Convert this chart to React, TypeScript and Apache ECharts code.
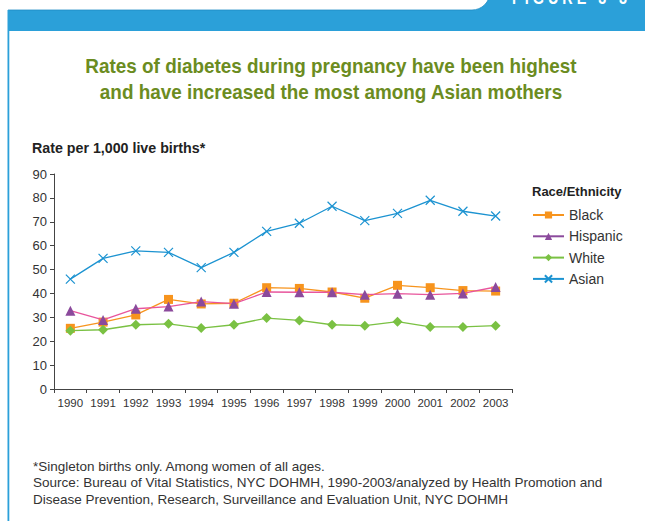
import React, { useEffect, useRef } from "react";
import * as echarts from "echarts";

const years = ["1990","1991","1992","1993","1994","1995","1996","1997","1998","1999","2000","2001","2002","2003"];
const black = [25.4, 28.0, 31.0, 37.5, 35.6, 35.9, 42.4, 42.1, 40.6, 38.0, 43.4, 42.4, 41.2, 41.0];
const hispanic = [32.8, 28.9, 33.6, 34.5, 36.6, 35.7, 40.6, 40.5, 40.5, 39.5, 39.9, 39.5, 40.0, 42.7];
const white = [24.4, 24.8, 26.9, 27.3, 25.5, 26.9, 29.7, 28.7, 26.9, 26.5, 28.2, 26.0, 26.0, 26.5];
const asian = [46.0, 54.7, 57.8, 57.2, 50.8, 57.2, 66.0, 69.4, 76.5, 70.5, 73.5, 79.0, 74.4, 72.4];

const titleLines = [
  "Rates of diabetes during pregnancy have been highest",
  "and have increased the most among Asian mothers",
];
const yAxisTitle = "Rate per 1,000 live births*";
const legendTitle = "Race/Ethnicity";
const figureLabel = "F I G U R E   3 - 3";
const footnotes = [
  "*Singleton births only. Among women of all ages.",
  "Source: Bureau of Vital Statistics, NYC DOHMH, 1990-2003/analyzed by Health Promotion and",
  "Disease Prevention, Research, Surveillance and Evaluation Unit, NYC DOHMH",
];

const BLUE = "#2BA0D9";
const SANS = '"Liberation Sans", Arial, sans-serif';

export default function App() {
  const ref = useRef<HTMLDivElement>(null);
  useEffect(() => {
    if (!ref.current) return;
    const chart = echarts.init(ref.current, null, { renderer: "svg" });
    const mkLine = (name: string, data: number[], color: string, symbol: string, size: number, extra: any = {}) => ({
      name,
      type: "line",
      data,
      symbol,
      symbolSize: size,
      lineStyle: { width: 1.3, color: extra.lineColor || color },
      itemStyle: { color, ...(extra.itemStyle || {}) },
      z: extra.z || 2,
    });
    chart.setOption({
      animation: false,
      backgroundColor: "#ffffff",
      textStyle: { fontFamily: SANS },
      grid: { left: 54, right: 133, top: 174, bottom: 132, containLabel: false },
      xAxis: {
        type: "category",
        data: years,
        boundaryGap: true,
        axisLine: { lineStyle: { color: "#444", width: 1 } },
        axisTick: { show: true, length: 4, lineStyle: { color: "#444" } },
        axisLabel: { color: "#333", fontSize: 11.5, margin: 8, interval: 0, fontFamily: SANS },
      },
      yAxis: {
        type: "value",
        min: 0,
        max: 90,
        interval: 10,
        axisLine: { show: true, lineStyle: { color: "#444", width: 1 } },
        axisTick: { show: true, length: 4, lineStyle: { color: "#444" } },
        axisLabel: { color: "#333", fontSize: 13, margin: 7, fontFamily: SANS },
        splitLine: { show: false },
      },
      legend: {
        orient: "vertical",
        left: 532,
        top: 208,
        padding: 0,
        itemWidth: 31,
        itemHeight: 9,
        itemGap: 7.3,
        textStyle: { fontSize: 14, color: "#333", fontFamily: SANS },
        data: [
          { name: "Black" },
          { name: "Hispanic", itemStyle: { color: "#8B4A9C" }, lineStyle: { color: "#8B4A9C" } },
          { name: "White" },
          { name: "Asian" },
        ],
      },
      series: [
        mkLine("Black", black, "#F7941D", "rect", 9),
        mkLine("Hispanic", hispanic, "#8B4A9C", "triangle", 10, { lineColor: "#E8559C", z: 3 }),
        mkLine("White", white, "#7AC143", "diamond", 10),
        mkLine("Asian", asian, "#1C93D1", "path://M0,0L10,10M10,0L0,10", 9, {
          itemStyle: { borderColor: "#1C93D1", borderWidth: 1.2 },
        }),
      ],
      graphic: [
        { type: "rect", shape: { x: 460, y: 0, width: 200, height: 31 }, style: { fill: BLUE }, silent: true },
        { type: "rect", shape: { x: 8, y: 10, width: 640, height: 21 }, style: { fill: BLUE }, silent: true },
        { type: "rect", shape: { x: -10, y: -20, width: 500, height: 30, r: [0, 0, 18, 0] }, style: { fill: "#ffffff", stroke: "#1E8CC4", lineWidth: 0.8 }, silent: true },
        { type: "rect", shape: { x: 0, y: 0, width: 8, height: 521 }, style: { fill: "#ffffff" }, silent: true },
        { type: "rect", shape: { x: 7.5, y: 10, width: 1.8, height: 520 }, style: { fill: BLUE }, silent: true },
        { type: "text", x: 512, y: 6, scaleX: 0.8, style: { text: figureLabel, fill: "#ffffff", font: `bold 18px ${SANS}`, textVerticalAlign: "bottom" }, silent: true },
        { type: "text", x: 331, y: 66, scaleX: 0.9, style: { text: titleLines[0], fill: "#6B8C21", font: `bold 21px ${SANS}`, textAlign: "center", textVerticalAlign: "middle" } },
        { type: "text", x: 331, y: 92, scaleX: 0.9, style: { text: titleLines[1], fill: "#6B8C21", font: `bold 21px ${SANS}`, textAlign: "center", textVerticalAlign: "middle" } },
        { type: "text", x: 32, y: 148, scaleX: 0.95, style: { text: yAxisTitle, fill: "#222", font: `bold 15px ${SANS}`, textVerticalAlign: "middle" } },
        { type: "text", x: 532, y: 191, style: { text: legendTitle, fill: "#222", font: `bold 13px ${SANS}`, textVerticalAlign: "middle" } },
        ...footnotes.map((t, i) => ({
          type: "text",
          x: 33,
          y: 466 + i * 16.5,
          style: { text: t, fill: "#333", font: `13.5px ${SANS}`, textVerticalAlign: "middle" },
        })),
      ],
    });
    return () => chart.dispose();
  }, []);
  return (
    <div
      ref={ref}
      style={{ position: "fixed", left: 0, top: 0, width: 645, height: 521, background: "#fff" }}
    />
  );
}
